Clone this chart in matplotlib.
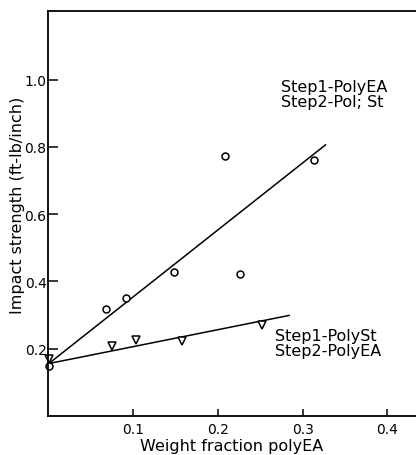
import matplotlib
matplotlib.use("Agg")
import matplotlib.pyplot as plt

# Step1-PolyEA / Step2-PolySt (open circles)
ea_x = [0.0, 0.068, 0.091, 0.148, 0.208, 0.226, 0.314]
ea_y = [0.149, 0.319, 0.351, 0.428, 0.773, 0.423, 0.760]
ea_fit_x = [0.0, 0.327]
ea_fit_y = [0.156, 0.806]

# Step1-PolySt / Step2-PolyEA (open down triangles)
st_x = [0.0, 0.075, 0.103, 0.157, 0.252]
st_y = [0.170, 0.208, 0.225, 0.222, 0.271]
st_fit_x = [0.0, 0.284]
st_fit_y = [0.156, 0.299]

x_ticks = [0.1, 0.2, 0.3, 0.4]
y_ticks = [0.2, 0.4, 0.6, 0.8, 1.0]

fig = plt.figure(figsize=(4.16, 4.56), dpi=100)
ax = fig.add_axes([0.1154, 0.0855, 0.8846, 0.8882])

ax.plot(ea_fit_x, ea_fit_y, color="black", lw=1.1)
ax.plot(st_fit_x, st_fit_y, color="black", lw=1.1)
ax.plot(ea_x, ea_y, "o", mfc="white", mec="black", ms=5, mew=1.1, clip_on=False)
ax.plot(st_x, st_y, "v", mfc="white", mec="black", ms=6, mew=1.1, clip_on=False)

ax.set_xlim(-0.001, 0.434)
ax.set_ylim(0, 1.204)
ax.set_xticks(x_ticks)
ax.set_xticklabels(["0.1", "0.2", "0.3", "0.4"])
ax.set_yticks(y_ticks)
ax.set_yticklabels(["0.2", "0.4", "0.6", "0.8", "1.0"])
ax.tick_params(axis="y", direction="in", length=7, width=1.1, pad=1, labelsize=10)
ax.tick_params(axis="x", direction="in", length=5, width=1.1, pad=4, labelsize=10)

ax.spines["right"].set_visible(False)
for s in ["left", "bottom", "top"]:
    ax.spines[s].set_linewidth(1.3)

xl = ax.set_xlabel("Weight fraction polyEA", fontsize=11.5)
xl.set_va("baseline")
ax.xaxis.set_label_coords(0.5, -0.085)
ax.set_ylabel("Impact strength (ft-lb/inch)", fontsize=11.5)
ax.yaxis.set_label_coords(-0.062, 0.523)

ax.text(0.2745, 1.002, "Step1-PolyEA\nStep2-Pol; St", fontsize=11.5,
        va="top", ha="left", linespacing=1.0)
ax.text(0.2675, 0.262, "Step1-PolySt\nStep2-PolyEA", fontsize=11.5,
        va="top", ha="left", linespacing=1.0)

fig.savefig("out.png", dpi=100)
